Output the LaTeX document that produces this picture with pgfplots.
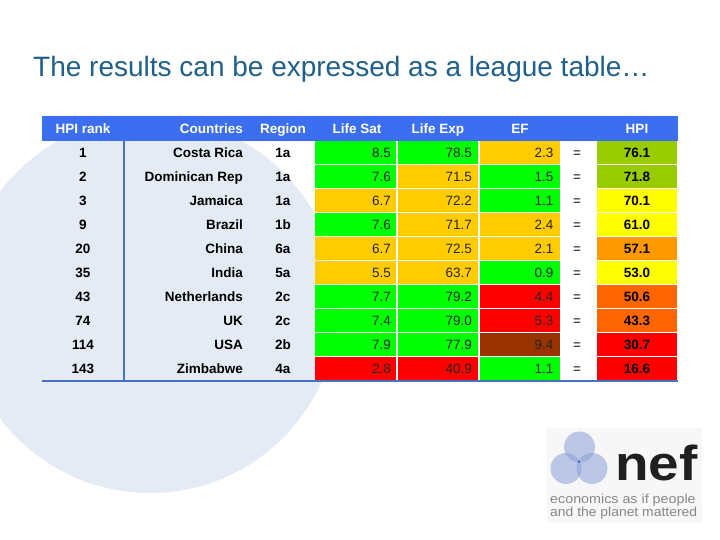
\documentclass[border=0pt]{standalone}
\usepackage{pgfplots}
\pgfplotsset{compat=1.18}
\usepackage{pgfplotstable}
\usepackage{fontspec}
\setmainfont{Liberation Sans}
\definecolor{titlec}{RGB}{31,95,140}
\definecolor{hdr}{RGB}{60,110,240}
\definecolor{rule}{RGB}{68,114,196}
\definecolor{bgc}{RGB}{229,235,245}
\definecolor{cg}{RGB}{0,255,0}
\definecolor{co}{RGB}{255,204,0}
\definecolor{cr}{RGB}{255,0,0}
\definecolor{cb}{RGB}{153,51,0}
\definecolor{hol}{RGB}{153,204,0}
\definecolor{hye}{RGB}{255,255,0}
\definecolor{hor}{RGB}{255,153,0}
\definecolor{hdo}{RGB}{255,102,0}
\definecolor{logoc}{RGB}{140,160,215}
\definecolor{logod}{RGB}{50,85,165}
\definecolor{logot}{RGB}{135,135,135}
\pgfdeclareplotmark{cell}{\pgfpathrectangle{\pgfqpoint{-40bp}{-11.25bp}}{\pgfqpoint{80bp}{22.5bp}}\pgfusepathqfill}
\newcommand\fs{\fontsize{13.5bp}{16bp}\selectfont}
\tikzset{txt/.style={inner sep=0pt, text height=9.7bp, text depth=0pt, font=\fs}}
\pgfplotstableread[col sep=comma]{
rank,country,region,ls,lsc,le,lec,ef,efc,hpi,hpic
1,Costa Rica,1a,8.5,g,78.5,g,2.3,o,76.1,ol
2,Dominican Rep,1a,7.6,g,71.5,o,1.5,g,71.8,ol
3,Jamaica,1a,6.7,o,72.2,o,1.1,g,70.1,ye
9,Brazil,1b,7.6,g,71.7,o,2.4,o,61.0,ye
20,China,6a,6.7,o,72.5,o,2.1,o,57.1,or
35,India,5a,5.5,o,63.7,o,0.9,g,53.0,ye
43,Netherlands,2c,7.7,g,79.2,g,4.4,r,50.6,do
74,UK,2c,7.4,g,79.0,g,5.3,r,43.3,do
114,USA,2b,7.9,g,77.9,g,9.4,b,30.7,r
143,Zimbabwe,4a,2.8,r,40.9,r,1.1,g,16.6,r
}\datatable
\begin{document}
\begin{tikzpicture}
\useasboundingbox (0,0) rectangle (720bp,540bp);
\begin{axis}[at={(0,0)}, anchor=south west, scale only axis,
  width=720bp, height=540bp, xmin=0, xmax=720, ymin=0, ymax=540,
  y dir=reverse, hide axis, clip=false,
  cellclasses/.style={scatter, only marks, scatter src=explicit symbolic,
    scatter/classes={g={mark=cell,cg}, o={mark=cell,co}, r={mark=cell,cr}, b={mark=cell,cb},
      ol={mark=cell,hol}, ye={mark=cell,hye}, or={mark=cell,hor}, do={mark=cell,hdo}}},
  vals/.style={draw=none, mark=none, nodes near coords, point meta=explicit symbolic,
    nodes near coords style={txt, anchor=east, text=black!85}},
  ]
% background circle
\fill[bgc] (axis cs:150,305) circle[radius=188bp];
% title
\node[anchor=base west, inner sep=0pt, font=\fontsize{28bp}{32bp}\selectfont, text=titlec] at (axis cs:33,76) {The results can be expressed as a league table…};
% header
\fill[hdr] (axis cs:42,116) rectangle (axis cs:678,141);
\begin{scope}[every node/.style={txt, text=white, font=\fs\bfseries}]
\node[anchor=center] at (axis cs:83,128.5) {HPI rank};
\node[anchor=east] at (axis cs:243,128.5) {Countries};
\node[anchor=center] at (axis cs:283,128.5) {Region};
\node[anchor=center] at (axis cs:357,128.5) {Life Sat};
\node[anchor=center] at (axis cs:438,128.5) {Life Exp};
\node[anchor=center] at (axis cs:520,128.5) {EF};
\node[anchor=center] at (axis cs:637,128.5) {HPI};
\end{scope}
% coloured cells
\addplot[cellclasses] table[x expr=355.5, y expr=152.25+24*\coordindex, meta=lsc] {\datatable};
\addplot[cellclasses] table[x expr=438, y expr=152.25+24*\coordindex, meta=lec] {\datatable};
\addplot[cellclasses] table[x expr=520, y expr=152.25+24*\coordindex, meta=efc] {\datatable};
\addplot[cellclasses] table[x expr=637, y expr=152.25+24*\coordindex, meta=hpic] {\datatable};
% values
\addplot[vals] table[x expr=391, y expr=152.25+24*\coordindex, meta=ls] {\datatable};
\addplot[vals] table[x expr=472, y expr=152.25+24*\coordindex, meta=le] {\datatable};
\addplot[vals] table[x expr=553.5, y expr=152.25+24*\coordindex, meta=ef] {\datatable};
\addplot[vals, nodes near coords style={anchor=center, font=\fs\bfseries, text=black}] table[x expr=637, y expr=152.25+24*\coordindex, meta=hpi] {\datatable};
\addplot[vals, nodes near coords={=}, nodes near coords style={anchor=center, text=black}] table[x expr=577, y expr=152.25+24*\coordindex, meta=hpi] {\datatable};
% left columns
\addplot[vals, nodes near coords style={anchor=center, font=\fs\bfseries, text=black}] table[x expr=83, y expr=152.25+24*\coordindex, meta=rank] {\datatable};
\addplot[vals, nodes near coords style={anchor=east, font=\fs\bfseries, text=black}] table[x expr=243, y expr=152.25+24*\coordindex, meta=country] {\datatable};
\addplot[vals, nodes near coords style={anchor=center, font=\fs\bfseries, text=black}] table[x expr=283, y expr=152.25+24*\coordindex, meta=region] {\datatable};
% rules
\draw[rule, line width=1.6bp] (axis cs:124,141) -- (axis cs:124,381);
\draw[rule, line width=1.6bp] (axis cs:42,381) -- (axis cs:678,381);
% logo
\fill[black!3] (axis cs:547,428) rectangle (axis cs:702,523);
\begin{scope}[fill=logoc, fill opacity=0.55]
\fill (axis cs:579.5,447) circle[radius=15.5bp];
\fill (axis cs:566,468.5) circle[radius=15.5bp];
\fill (axis cs:592,468.5) circle[radius=15.5bp];
\end{scope}
\begin{scope}
\clip (axis cs:579.5,447) circle[radius=15.5bp];
\clip (axis cs:566,468.5) circle[radius=15.5bp];
\fill[logod] (axis cs:592,468.5) circle[radius=15.5bp];
\end{scope}
\node[anchor=base west, inner sep=0pt, font=\fontsize{49bp}{52bp}\selectfont\bfseries, text=black!88, xscale=1.12] at (axis cs:615,480) {nef};
\node[anchor=base west, inner sep=0pt, font=\fontsize{13bp}{15bp}\selectfont, text=logot, xscale=1.1] at (axis cs:550,503) {economics as if people};
\node[anchor=base west, inner sep=0pt, font=\fontsize{13bp}{15bp}\selectfont, text=logot, xscale=1.07] at (axis cs:550,516) {and the planet mattered};
\end{axis}
\end{tikzpicture}
\end{document}
